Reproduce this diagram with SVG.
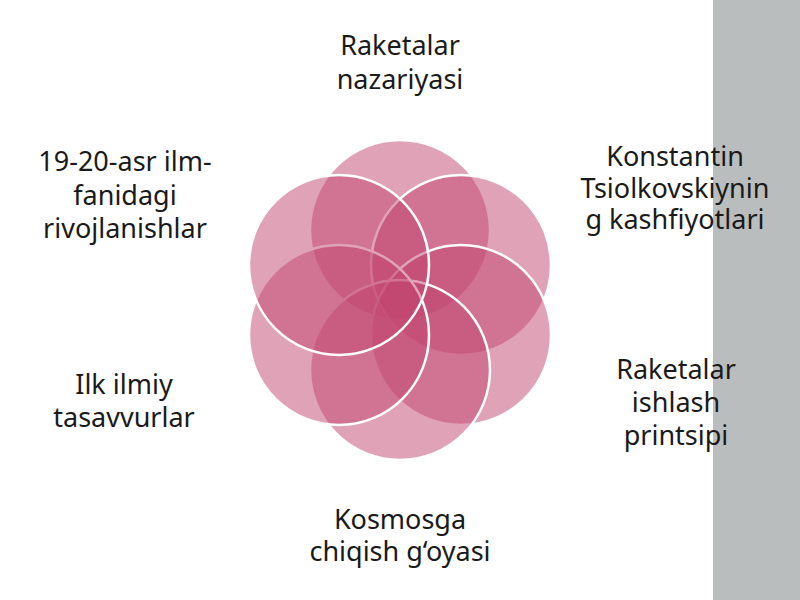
<svg xmlns="http://www.w3.org/2000/svg" width="800" height="600" viewBox="0 0 800 600">
<style>
.c{fill:#c2456f;fill-opacity:0.5;stroke:#fff;stroke-width:2.5}
.t{font-family:"Noto Sans","Open Sans",sans-serif;font-size:27px;fill:#1a1a1a;text-anchor:middle}
</style>
<rect width="800" height="600" fill="#fff"/>
<rect x="713" y="0" width="87" height="600" fill="#b9bdbe"/>
<g id="circles">
<circle id="c1" class="c" cx="400" cy="230" r="90"/>
<circle id="c2" class="c" cx="461" cy="265" r="90"/>
<circle id="c3" class="c" cx="461" cy="335" r="90"/>
<circle id="c4" class="c" cx="400" cy="370" r="90"/>
<circle id="c5" class="c" cx="339" cy="335" r="90"/>
<circle id="c6" class="c" cx="339" cy="265" r="90"/>
</g>
<g id="labels" class="t">
<text x="400" y="55">Raketalar</text><text x="400" y="89">nazariyasi</text>
<text x="675" y="166">Konstantin</text><text x="675" y="198">Tsiolkovskiynin</text><text x="675" y="229">g kashfiyotlari</text>
<text x="676" y="379">Raketalar</text><text x="676" y="412">ishlash</text><text x="676" y="445">printsipi</text>
<text x="400" y="529">Kosmosga</text><text x="400" y="561">chiqish g‘oyasi</text>
<text x="124" y="394">Ilk ilmiy</text><text x="124" y="427">tasavvurlar</text>
<text x="125" y="171">19-20-asr ilm-</text><text x="125" y="205">fanidagi</text><text x="125" y="238">rivojlanishlar</text>
</g>
</svg>
